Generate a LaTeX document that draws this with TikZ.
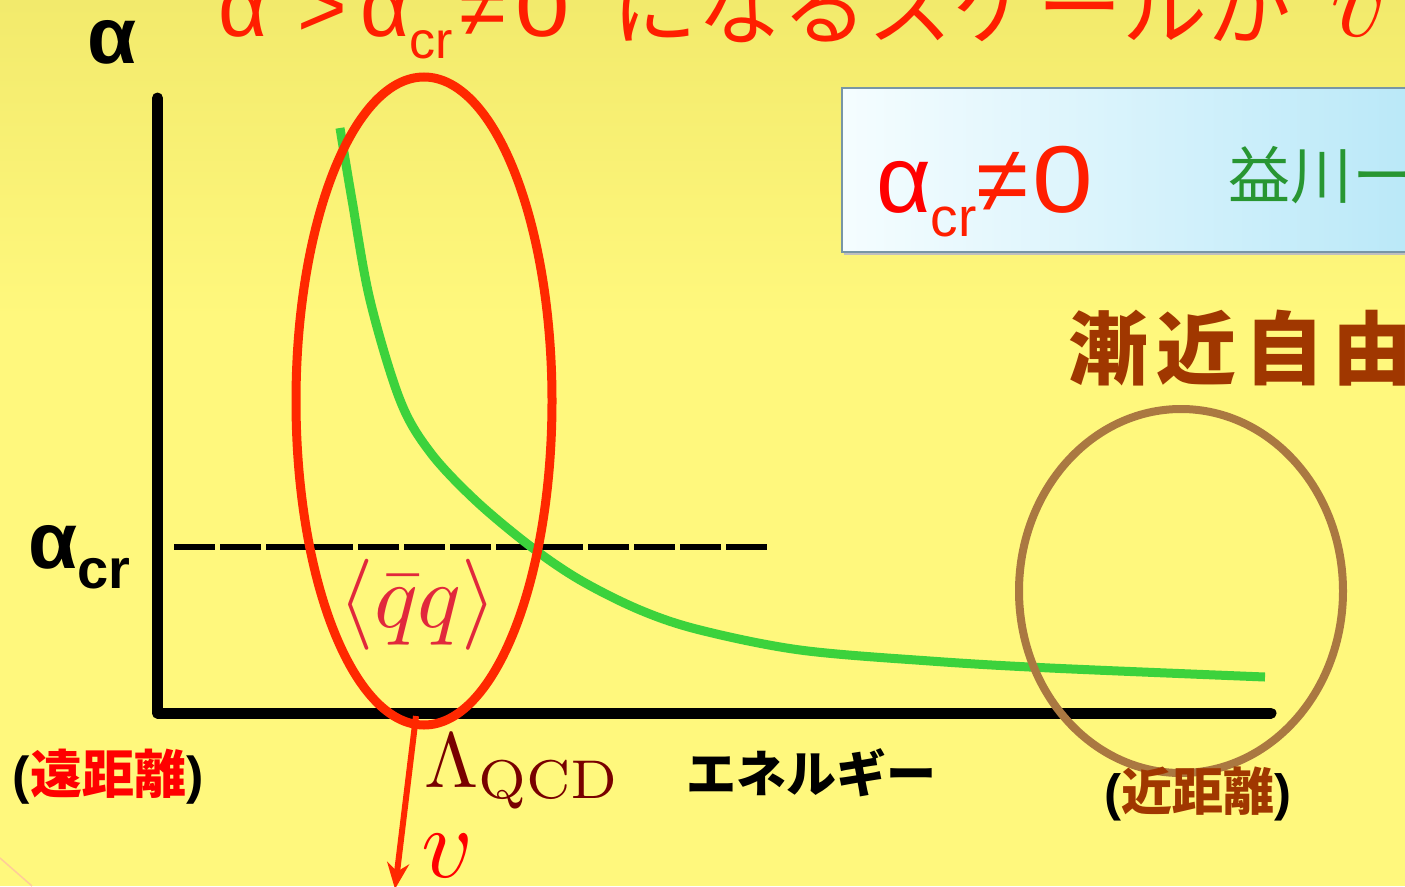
\documentclass[tikz,border=0pt]{standalone}
\usepackage{graphicx}
\usepackage[no-math]{fontspec}
\setmainfont{Liberation Sans}
\newfontfamily\cjk{Noto Sans CJK JP}
\usetikzlibrary{arrows.meta}
\definecolor{bg}{RGB}{255,248,125}
\definecolor{bgtop}{RGB}{242,234,108}
\definecolor{titlered}{RGB}{255,30,0}
\definecolor{ellred}{RGB}{255,40,0}
\definecolor{curvegreen}{RGB}{60,210,60}
\definecolor{ellbrown}{RGB}{170,120,65}
\definecolor{textbrown}{RGB}{160,55,0}
\definecolor{qqred}{RGB}{225,40,60}
\definecolor{lamred}{RGB}{120,0,0}
\definecolor{boxgreen}{RGB}{40,150,50}
\definecolor{boxleft}{RGB}{245,253,255}
\definecolor{boxright}{RGB}{185,232,248}
\definecolor{boxborder}{RGB}{120,150,165}
\newcommand{\fs}[1]{\fontsize{#1}{#1}\selectfont}
\newcommand{\wzero}{\scalebox{1.15}[1]{0}}
\begin{document}
\begin{tikzpicture}[x=1pt,y=-1pt,
  axis/.style={line width=11pt, line join=round, line cap=round, draw=black},
  lbl/.style={inner sep=0pt, outer sep=0pt},
]
\useasboundingbox (0,0) rectangle (1405,886);
\clip (0,0) rectangle (1405,886);
\fill[bg] (0,0) rectangle (1405,886);
\fill[top color=bgtop, bottom color=bg] (0,0) rectangle (1405,320);
\draw[orange!40, line width=1.5pt] (0,858) -- (32,886);

% title (cut at top)
\node[lbl, anchor=base west, text=titlered] (t1) at (218,36)
  {\fs{85}α\hspace{30pt}>\hspace{14pt}α\raisebox{-0.27em}{\fs{52}cr}\hspace{6pt}≠\hspace{10pt}\wzero};
\node[lbl, anchor=base west, text=titlered] (t2) at (612,38)
  {\fs{85}\cjk になるスケールが};
\node[lbl, anchor=base west, text=titlered] (t3) at (1330,36)
  {\scalebox{11}{$v$}};

% info box
\fill[black!25] (844,91) rectangle (1420,255);
\draw[boxborder, line width=1.5pt, left color=boxleft, right color=boxright] (842,88) rectangle (1420,252);
\node[lbl, anchor=base west, text=red] (acr) at (876,212)
  {\fs{95}α\raisebox{-0.26em}{\fs{55}\color{titlered}cr}{\color{titlered}≠\hspace{4pt}\wzero}};
\node[lbl, anchor=base west, text=boxgreen] (masu) at (1228,198)
  {\fs{62}\cjk 益川ー};

% axes
\coordinate (ytop) at (157.5,98);
\coordinate (orig) at (157.5,713);
\coordinate (xend) at (1271,713);
\draw[axis] (ytop) -- (orig) -- (xend);
\node[lbl, text=black] (alpha) at (112,42) {\fs{80}\bfseries α};
\node[lbl, anchor=base west, text=black] (alphacr) at (28,568)
  {\fs{80}\bfseries α\raisebox{-0.26em}{\fs{56}\bfseries cr}};

% dashed critical line
\coordinate (d1) at (174,547);
\coordinate (d2) at (770,547);
\draw[black, line width=5.5pt, dash pattern=on 41pt off 5pt] (d1) -- (d2);

% running coupling curve
\draw[curvegreen, line width=9pt] plot[smooth, tension=0.55] coordinates {
 (340,128) (352,200) (370,300) (400,400) (430,452) (475,500) (530,546)
 (580,580) (640,610) (700,630) (800,650) (930,661) (1050,668) (1265,677)};

% ellipses
\draw[ellred, line width=9pt] (424,401) ellipse [x radius=128, y radius=324];
\draw[ellbrown, line width=8pt] (1181,591) ellipse [x radius=162, y radius=182];

% condensate label
\node[lbl, text=qqred] (qq) at (418,605) {\scalebox{9.1}{$\langle\bar q q\rangle$}};

% arrow to v
\coordinate (arS) at (416,716);
\coordinate (arE) at (395,889);
\draw[ellred, line width=6pt, -{Stealth[length=26pt,width=22pt]}] (arS) -- (arE);
\node[lbl, anchor=base west, text=lamred] (lam) at (424,787) {\scalebox{7.8}{$\Lambda_{\mathrm{QCD}}$}};
\node[lbl, anchor=base west, text=red] (vv) at (421,877) {\scalebox{10}{$v$}};

% axis labels
\node[lbl, text=black] (far) at (108,777)
  {\fs{52}\bfseries ({\cjk\color{red}遠距離})};
\node[lbl, text=black] (ene) at (811,773) {\fs{50}\cjk\bfseries エネルギー};
\node[lbl, text=black] (near) at (1198,794)
  {\fs{51}\bfseries ({\cjk\color{textbrown}近距離})};
\node[lbl, anchor=west, text=textbrown] (af) at (1068,348)
  {\fs{80}\cjk\bfseries\addfontfeature{LetterSpace=10}漸近自由};
\end{tikzpicture}
\end{document}
